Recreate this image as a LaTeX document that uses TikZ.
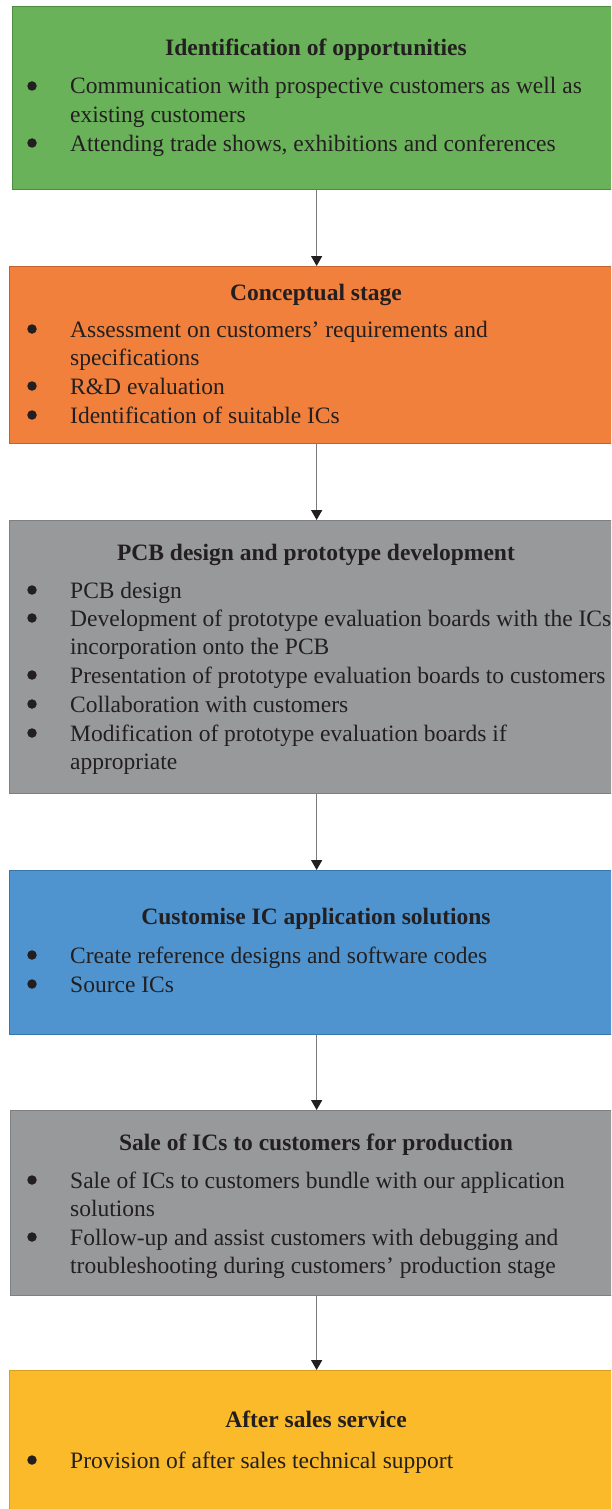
\documentclass[tikz,border=0pt]{standalone}
\usepackage{fontspec}
\setmainfont{Liberation Serif}
\usetikzlibrary{arrows.meta}
\definecolor{txt}{HTML}{231F20}
\definecolor{cgreen}{HTML}{6AB259}
\definecolor{bgreen}{HTML}{4B8E3F}
\definecolor{corange}{HTML}{F0803C}
\definecolor{borange}{HTML}{C4622C}
\definecolor{cgray}{HTML}{97999B}
\definecolor{bgray}{HTML}{7E8082}
\definecolor{cblue}{HTML}{4F94CE}
\definecolor{bblue}{HTML}{3A76AE}
\definecolor{cyellow}{HTML}{FBBA2A}
\definecolor{byellow}{HTML}{D99E1E}
\definecolor{arrowgray}{HTML}{7A7A7A}
\begin{document}
\begin{tikzpicture}[x=1pt,y=-1pt,
  stagebox/.style={rectangle, anchor=north west, inner sep=0pt, line width=1.3pt},
  stagetitle/.style={anchor=base, inner sep=0pt, text=txt, font=\fontsize{23.5}{28.5}\selectfont\bfseries},
  itemtext/.style={anchor=base west, inner sep=0pt, text=txt, align=left, font=\fontsize{23.5}{28.5}\selectfont},
  dot/.style={circle, fill=txt, inner sep=0pt, minimum size=9.5pt},
  flow/.style={draw=arrowgray, line width=1.5pt, -{Triangle[width=11pt,length=10pt,color=txt]}, shorten >=0pt}
]
\useasboundingbox (0,0) rectangle (611,1509);
\clip (0,0) rectangle (611,1509);

% boxes
\node[stagebox, fill=cgreen, draw=bgreen, minimum width=608pt, minimum height=183pt] (b1) at (12,6) {};
\node[stagebox, fill=corange, draw=borange, minimum width=614pt, minimum height=177pt] (b2) at (9,266) {};
\node[stagebox, fill=cgray, draw=bgray, minimum width=614pt, minimum height=273pt] (b3) at (9,520) {};
\node[stagebox, fill=cblue, draw=bblue, minimum width=614pt, minimum height=164pt] (b4) at (9,870) {};
\node[stagebox, fill=cgray, draw=bgray, minimum width=612pt, minimum height=185pt] (b5) at (10,1110) {};
\node[stagebox, fill=cyellow, draw=byellow, minimum width=614pt, minimum height=160pt] (b6) at (9,1370) {};

% connectors
\draw[flow] (b1.south) -- (b2.north);
\draw[flow] (b2.south) -- (b3.north);
\draw[flow] (b3.south) -- (b4.north);
\draw[flow] (b4.south) -- (b5.north);
\draw[flow] (b5.south) -- (b6.north);

% box 1 (multi-line items are anchored on their last line)
\node[stagetitle] (t1) at (316,56) {Identification of opportunities};
\node[dot] (d11) at (32,86) {};
\node[itemtext] (i11) at (70,122.5) {Communication with prospective customers as well as\\existing customers};
\node[dot] (d12) at (32,143) {};
\node[itemtext] (i12) at (70,151) {Attending trade shows, exhibitions and conferences};

% box 2
\node[stagetitle] (t2) at (316,300) {Conceptual stage};
\node[dot] (d21) at (32,329) {};
\node[itemtext] (i21) at (70,365.5) {Assessment on customers’ requirements and\\specifications};
\node[dot] (d22) at (32,386) {};
\node[itemtext] (i22) at (70,394) {R\&D evaluation};
\node[dot] (d23) at (32,415) {};
\node[itemtext] (i23) at (70,423) {Identification of suitable ICs};

% box 3
\node[stagetitle] (t3) at (316,560) {PCB design and prototype development};
\node[dot] (d31) at (32,590) {};
\node[itemtext] (i31) at (70,598) {PCB design};
\node[dot] (d32) at (32,618) {};
\node[itemtext] (i32) at (70,654.5) {Development of prototype evaluation boards with the ICs\\incorporation onto the PCB};
\node[dot] (d33) at (32,675) {};
\node[itemtext] (i33) at (70,683) {Presentation of prototype evaluation boards to customers};
\node[dot] (d34) at (32,704) {};
\node[itemtext] (i34) at (70,712) {Collaboration with customers};
\node[dot] (d35) at (32,733) {};
\node[itemtext] (i35) at (70,769.5) {Modification of prototype evaluation boards if\\appropriate};

% box 4
\node[stagetitle] (t4) at (316,924) {Customise IC application solutions};
\node[dot] (d41) at (32,955) {};
\node[itemtext] (i41) at (70,963) {Create reference designs and software codes};
\node[dot] (d42) at (32,984) {};
\node[itemtext] (i42) at (70,992) {Source ICs};

% box 5
\node[stagetitle] (t5) at (316,1150) {Sale of ICs to customers for production};
\node[dot] (d51) at (32,1180) {};
\node[itemtext] (i51) at (70,1216.5) {Sale of ICs to customers bundle with our application\\solutions};
\node[dot] (d52) at (32,1237) {};
\node[itemtext] (i52) at (70,1273.5) {Follow-up and assist customers with debugging and\\troubleshooting during customers’ production stage};

% box 6
\node[stagetitle] (t6) at (316,1427) {After sales service};
\node[dot] (d61) at (32,1460) {};
\node[itemtext] (i61) at (70,1468) {Provision of after sales technical support};
\end{tikzpicture}
\end{document}
